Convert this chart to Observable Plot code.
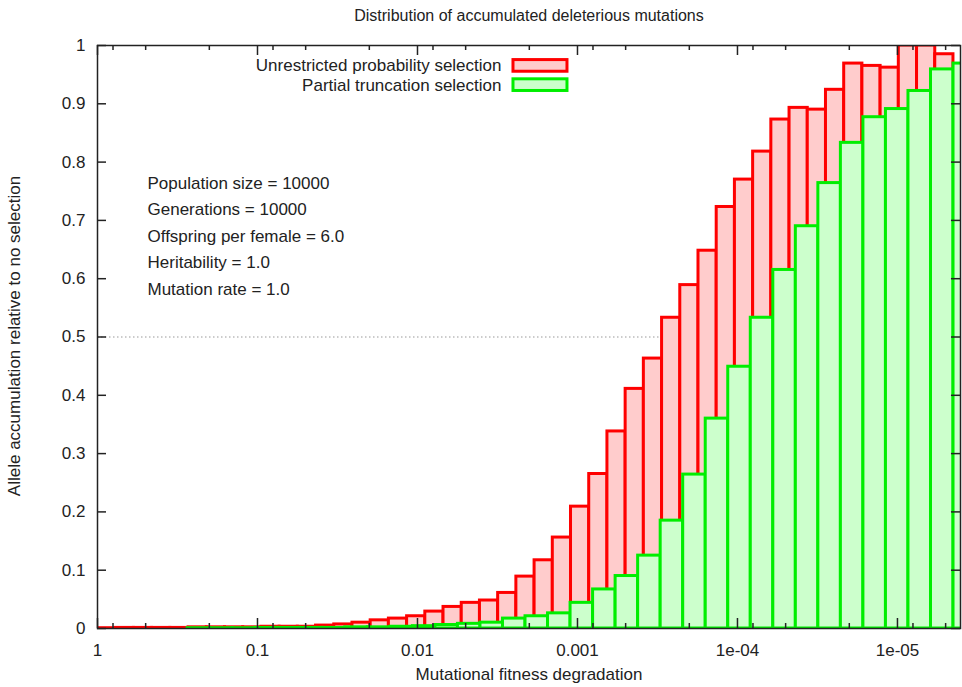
<!DOCTYPE html>
<html><head><meta charset="utf-8">
<script src="https://cdn.jsdelivr.net/npm/d3@7"></script>
<script src="https://cdn.jsdelivr.net/npm/@observablehq/plot@0.6"></script>
<style>body{margin:0;background:#fff;font-family:"Liberation Sans",Arial,sans-serif}</style>
</head><body><div id="c"></div>
<script>
// Bin heights, left (fitness 1) to right (fitness ~1e-5)
const redValues = [0.0005,0.001,0.001,0.001,0.001,0.002,0.002,0.002,0.002,0.003,0.003,
  0.003,0.005,0.007,0.010,0.014,0.017,0.021,0.029,0.037,0.044,
  0.048,0.061,0.089,0.117,0.156,0.209,0.265,0.338,0.411,0.463,0.533,0.589,0.648,0.723,0.770,
  0.818,0.873,0.893,0.890,0.924,0.969,0.965,0.962,1.0,1.0,0.985];
const greenValues = [0,0,0,0,0.0005,0.0005,0.0005,0.001,0.001,0.001,0.001,0.002,0.002,0.003,0.004,0.006,0.008,
  0.010,0.017,0.021,0.026,0.044,0.067,0.090,0.125,0.185,0.264,0.360,0.449,0.533,0.615,0.690,0.764,
  0.833,0.877,0.891,0.922,0.959,0.969];
const redBinDecades = 0.11383, greenBinDecades = 0.1408; // bin widths in log10 units
const majorTicks = [1,0.1,0.01,0.001,1e-4,1e-5];
const majorLabels = ["1","0.1","0.01","0.001","1e-04","1e-05"];
const minorMult = [8,5,2];
const yTicks = d3.range(0,11).map(i=>i/10);
const yLabels = ["0","0.1","0.2","0.3","0.4","0.5","0.6","0.7","0.8","0.9","1"];
const notes = ["Population size = 10000","Generations = 10000","Offspring per female = 6.0","Heritability = 1.0","Mutation rate = 1.0"];

const bins = (vals,w)=>vals.map((v,i)=>({x1:Math.pow(10,-i*w),x2:Math.pow(10,-(i+1)*w),y:v}));
const red = bins(redValues,redBinDecades), green = bins(greenValues,greenBinDecades);
const xmin = Math.pow(10,-5.394);
const minor = [];
for (let k=0;k<6;k++) for (const m of minorMult){const v=m*Math.pow(10,-k-1); if(v>xmin) minor.push(v);}
const px = d => Math.pow(10,-d/160); // helper for pixel-length offsets along log axis
const tickLenY = 10/583, minorLenY = 5/583;
const xLab = d => majorLabels[Math.round(-Math.log10(d))];
const yLab = d => yLabels[Math.round(d*10)];

const plot = Plot.plot({
  width:962, height:687, marginLeft:97, marginRight:2, marginTop:45, marginBottom:59,
  style:{fontFamily:"Liberation Sans, Arial, sans-serif", fontSize:"17px", color:"#222"},
  x:{type:"log", domain:[1,xmin], label:null, axis:null},
  y:{domain:[0,1], label:null, axis:null},
  marks:[
    Plot.ruleY([0.5],{stroke:"#999",strokeDasharray:"1.5,2.5",strokeWidth:1}),
    Plot.rectY(red,{x1:"x1",x2:"x2",y:"y",fill:"#ffcccc",stroke:"#ff0000",strokeWidth:3,clip:true}),
    Plot.rectY(green,{x1:"x1",x2:"x2",y:"y",fill:"#ccffcc",stroke:"#00ee00",strokeWidth:3,clip:true}),
    Plot.frame({stroke:"#222",strokeWidth:1.5}),
    Plot.ruleX(majorTicks,{y1:0,y2:tickLenY,stroke:"#222",strokeWidth:1.5}),
    Plot.ruleX(majorTicks,{y1:1-tickLenY,y2:1,stroke:"#222",strokeWidth:1.5}),
    Plot.ruleX(minor,{y1:0,y2:minorLenY,stroke:"#222",strokeWidth:1.5}),
    Plot.ruleX(minor,{y1:1-minorLenY,y2:1,stroke:"#222",strokeWidth:1.5}),
    Plot.ruleY(yTicks,{x1:1,x2:px(9),stroke:"#222",strokeWidth:1.5}),
    Plot.ruleY(yTicks,{x1:xmin,x2:px(863-9),stroke:"#222",strokeWidth:1.5}),
    Plot.text(majorTicks,{x:d=>d,y:0,text:xLab,dy:22,fontSize:17,fill:"#222"}),
    Plot.text(yTicks,{x:1,y:d=>d,text:yLab,dx:-12,textAnchor:"end",fontSize:17,fill:"#222"}),
    Plot.text(notes,{x:px(50),y:(d,i)=>0.764-i*0.0455,text:d=>d,textAnchor:"start",fontSize:17,fill:"#222"}),
    Plot.text(["Unrestricted probability selection","Partial truncation selection"],{x:px(404),y:(d,i)=>0.965-i*0.033,text:d=>d,textAnchor:"end",fontSize:17,fill:"#222"}),
    Plot.rect([0,1],{x1:px(416),x2:px(470),y1:(d,i)=>0.955-i*0.033,y2:(d,i)=>0.975-i*0.033,fill:(d,i)=>i?"#ccffcc":"#ffcccc",stroke:(d,i)=>i?"#00ee00":"#ff0000",strokeWidth:3})
  ]
});
const svg = d3.select(plot);
svg.append("text").attr("x",529).attr("y",21).attr("text-anchor","middle").attr("font-size",16).attr("fill","#222").text("Distribution of accumulated deleterious mutations");
svg.append("text").attr("x",529).attr("y",680).attr("text-anchor","middle").attr("font-size",17).attr("fill","#222").text("Mutational fitness degradation");
svg.append("text").attr("transform","translate(20,336) rotate(-90)").attr("text-anchor","middle").attr("font-size",17).attr("fill","#222").text("Allele accumulation relative to no selection");
document.getElementById("c").appendChild(plot);
</script></body></html>
